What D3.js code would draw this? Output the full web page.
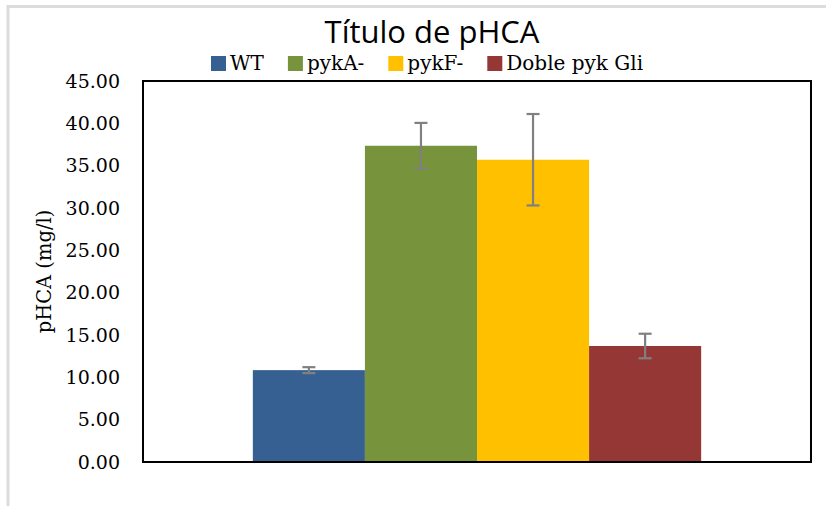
<!DOCTYPE html>
<html>
<head>
<meta charset="utf-8">
<script src="https://cdn.jsdelivr.net/npm/d3@7"></script>
<style>
  body { margin: 0; background: #fff; }
  text { fill: #000; }
</style>
</head>
<body>
<div id="chart"></div>
<script>
var series = ["WT", "pykA-", "pykF-", "Doble pyk Gli"];
var means = [10.85, 37.35, 35.7, 13.7];
var errors = [0.35, 2.7, 5.4, 1.45];
var colors = ["#376092", "#77933c", "#ffc000", "#953735"];
var yTicks = [0, 5, 10, 15, 20, 25, 30, 35, 40, 45];

var width = 826, height = 506;
var margin = { top: 81, right: 15, bottom: 44, left: 143 };
var w = width - margin.left - margin.right,
    h = height - margin.top - margin.bottom;

var data = series.map(function(s, i) {
  return { name: s, value: means[i], err: errors[i], color: colors[i] };
});

var svg = d3.select("#chart").append("svg")
  .attr("width", width)
  .attr("height", height);

// outer frame (light gray, left and top)
svg.append("path")
  .attr("d", "M8," + height + "V6.5H" + width)
  .attr("fill", "none")
  .attr("stroke", "#dcdcdc")
  .attr("stroke-width", 3);

var xScale = d3.scaleBand()
  .domain(series)
  .range([0, w])
  .paddingInner(0)
  .paddingOuter(0.98);

var yScale = d3.scaleLinear()
  .domain([0, 45])
  .range([h, 0]);

var g = svg.append("g")
  .attr("transform", "translate(" + margin.left + "," + margin.top + ")");

g.selectAll(".bars")
  .data(data)
  .enter()
  .append("rect")
  .attr("class", "bars")
  .attr("x", function(d) { return xScale(d.name); })
  .attr("y", function(d) { return yScale(d.value); })
  .attr("width", xScale.bandwidth())
  .attr("height", function(d) { return h - yScale(d.value); })
  .attr("fill", function(d) { return d.color; });

// error bars
var eb = g.selectAll(".err")
  .data(data)
  .enter()
  .append("g")
  .attr("class", "err")
  .attr("stroke", "#808080")
  .attr("stroke-width", 2.2);
eb.append("line")
  .attr("x1", function(d) { return xScale(d.name) + xScale.bandwidth() / 2; })
  .attr("x2", function(d) { return xScale(d.name) + xScale.bandwidth() / 2; })
  .attr("y1", function(d) { return yScale(d.value + d.err); })
  .attr("y2", function(d) { return yScale(d.value - d.err); });
eb.append("line")
  .attr("x1", function(d) { return xScale(d.name) + xScale.bandwidth() / 2 - 6.5; })
  .attr("x2", function(d) { return xScale(d.name) + xScale.bandwidth() / 2 + 6.5; })
  .attr("y1", function(d) { return yScale(d.value + d.err); })
  .attr("y2", function(d) { return yScale(d.value + d.err); });
eb.append("line")
  .attr("x1", function(d) { return xScale(d.name) + xScale.bandwidth() / 2 - 6.5; })
  .attr("x2", function(d) { return xScale(d.name) + xScale.bandwidth() / 2 + 6.5; })
  .attr("y1", function(d) { return yScale(d.value - d.err); })
  .attr("y2", function(d) { return yScale(d.value - d.err); });

// plot border
g.append("rect")
  .attr("width", w)
  .attr("height", h)
  .attr("fill", "none")
  .attr("stroke", "#000")
  .attr("stroke-width", 2);

var yAxis = d3.axisLeft(yScale)
  .tickValues(yTicks)
  .tickFormat(d3.format(".2f"))
  .tickSize(0)
  .tickPadding(23);
g.append("g")
  .attr("class", "y-axis")
  .call(yAxis)
  .call(function(a) { a.select(".domain").remove(); })
  .selectAll("text")
  .attr("font-family", "DejaVu Serif")
  .attr("font-size", 19)
  .attr("fill", "#000");

// title
svg.append("text")
  .attr("text-anchor", "middle")
  .attr("x", 432)
  .attr("y", 43)
  .attr("font-family", "Open Sans")
  .attr("font-size", 31)
  .text("Título de pHCA");

// y axis label
svg.append("text")
  .attr("text-anchor", "middle")
  .attr("transform", "translate(51," + (margin.top + yScale(22.5) ) + ")rotate(-90)")
  .attr("font-family", "DejaVu Serif")
  .attr("font-size", 19.5)
  .text("pHCA (mg/l)");

// legend
var legend = svg.append("g").attr("class", "legend");
var lx = 211;
data.forEach(function(d) {
  legend.append("rect")
    .attr("x", lx)
    .attr("y", 56)
    .attr("width", 15)
    .attr("height", 15)
    .attr("fill", d.color);
  var t = legend.append("text")
    .attr("x", lx + 19)
    .attr("y", 70)
    .attr("font-family", "DejaVu Serif")
    .attr("font-size", 20)
    .text(d.name);
  lx += 19 + t.node().getComputedTextLength() + 24;
});
</script>
</body>
</html>
